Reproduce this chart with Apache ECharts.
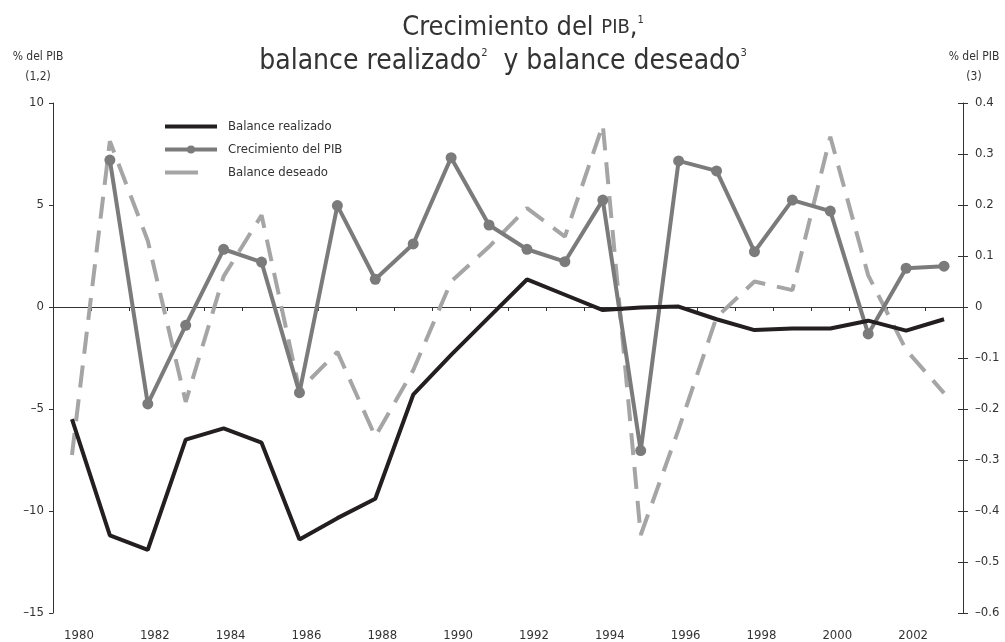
<!DOCTYPE html>
<html>
<head>
<meta charset="utf-8">
<script src="https://cdn.jsdelivr.net/npm/echarts@6/dist/echarts.min.js"></script>
<style>
  html, body { margin: 0; padding: 0; background: #fff; }
  #chart { width: 1005px; height: 642px; }
</style>
</head>
<body>
<div id="chart"></div>
<script>
// datos
const years = ['1980', '1981', '1982', '1983', '1984', '1985', '1986', '1987', '1988', '1989', '1990', '1991',
  '1992', '1993', '1994', '1995', '1996', '1997', '1998', '1999', '2000', '2001', '2002', '2003'];

// % del PIB, eje izquierdo (1,2)
const balanceRealizado = [-5.5, -11.2, -11.9, -6.5, -5.95, -6.65, -11.4, -10.35, -9.4, -4.3, -2.35, -0.5,
  1.35, 0.6, -0.15, -0.02, 0.02, -0.6, -1.13, -1.05, -1.05, -0.67, -1.16, -0.6];
const crecimientoPIB = [null, 7.2, -4.75, -0.9, 2.83, 2.2, -4.2, 4.97, 1.36, 3.09, 7.32, 4.02,
  2.83, 2.22, 5.24, -7.04, 7.16, 6.67, 2.71, 5.24, 4.7, -1.32, 1.9, 2.0];

// % del PIB, eje derecho (3)
const balanceDeseado = [-0.29, 0.325, 0.13, -0.186, 0.06, 0.18, -0.163, -0.088, -0.254, -0.124, 0.05, 0.118,
  0.194, 0.138, 0.357, -0.447, -0.24, -0.02, 0.05, 0.033, 0.334, 0.062, -0.084, -0.169];

// escalas de los ejes
const leftMin = -15, leftMax = 10, leftStep = 5;
const rightMin = -0.6, rightMax = 0.4, rightStep = 0.1;

const FONT = "'Liberation Sans Narrow', 'DejaVu Sans Condensed', 'Open Sans', sans-serif";
const AXIS_COLOR = '#333';
const TITLE_COLOR = '#333';

const chart = echarts.init(document.getElementById('chart'));

const dashFmt = (s) => s.replace('-', '\u2013');

// sin simbolo en la leyenda para las lineas sin marcadores
const noSymbol = { opacity: 0 };

const option = {
  backgroundColor: '#fff',
  animation: false,
  grid: { left: 53, right: 42, top: 103, bottom: 29, containLabel: false },
  legend: {
    orient: 'vertical',
    left: 158,
    top: 115,
    itemWidth: 52,
    itemHeight: 10,
    itemGap: 10,
    textStyle: { fontFamily: FONT, fontSize: 13, color: '#333', padding: [0, 0, 0, 6] },
    data: [
      { name: 'Balance realizado', itemStyle: noSymbol, lineStyle: { width: 4 } },
      { name: 'Crecimiento del PIB', lineStyle: { width: 4 } },
      { name: 'Balance deseado', itemStyle: noSymbol, lineStyle: { width: 4, type: [33, 40] } }
    ]
  },
  xAxis: [
    {
      type: 'category',
      data: years,
      position: 'bottom',
      axisLine: { show: false, onZero: false },
      axisTick: { show: false },
      axisLabel: {
        interval: 1, fontFamily: FONT, fontSize: 13, color: AXIS_COLOR,
        margin: 16, padding: [0, 0, 0, 14]
      }
    },
    {
      // linea del cero con marcas
      type: 'category',
      data: years,
      position: 'bottom',
      axisLine: { show: true, onZero: true, onZeroAxisIndex: 0, lineStyle: { color: AXIS_COLOR, width: 1 } },
      axisTick: { show: true, length: 4, lineStyle: { color: AXIS_COLOR } },
      axisLabel: { show: false }
    }
  ],
  yAxis: [
    {
      type: 'value', position: 'left',
      min: leftMin, max: leftMax, interval: leftStep,
      axisLine: { show: true, lineStyle: { color: AXIS_COLOR } },
      axisTick: { show: true, length: 4, lineStyle: { color: AXIS_COLOR } },
      splitLine: { show: false },
      axisLabel: {
        fontFamily: FONT, fontSize: 13, color: AXIS_COLOR, margin: 9,
        formatter: (v) => dashFmt(String(v))
      }
    },
    {
      type: 'value', position: 'right',
      min: rightMin, max: rightMax, interval: rightStep,
      axisLine: { show: true, lineStyle: { color: AXIS_COLOR } },
      axisTick: { show: true, length: 5, lineStyle: { color: AXIS_COLOR } },
      splitLine: { show: false },
      axisLabel: {
        fontFamily: FONT, fontSize: 13, color: AXIS_COLOR, margin: 12,
        formatter: (v) => (Math.abs(v) < 1e-9 ? '0' : dashFmt(v.toFixed(1)))
      }
    },
    {
      // marcas hacia dentro del eje derecho
      type: 'value', position: 'right',
      min: rightMin, max: rightMax, interval: rightStep,
      axisLine: { show: false },
      axisTick: { show: true, inside: true, length: 5, lineStyle: { color: AXIS_COLOR } },
      splitLine: { show: false },
      axisLabel: { show: false }
    }
  ],
  graphic: [
    {
      type: 'text', x: 523, y: 28,
      style: {
        text: '{m|Crecimiento del }{sc|PIB}{m|,}{sup|1}',
        align: 'center', verticalAlign: 'middle',
        rich: {
          m: { fontFamily: FONT, fontSize: 27, fill: TITLE_COLOR },
          sc: { fontFamily: FONT, fontSize: 20, fill: TITLE_COLOR },
          sup: { fontFamily: FONT, fontSize: 11, fill: TITLE_COLOR, verticalAlign: 'top', padding: [0, 0, 14, 0] }
        }
      }
    },
    {
      type: 'text', x: 503, y: 62,
      style: {
        text: '{m|balance realizado}{sup|2}{m|  y balance deseado}{sup|3}',
        align: 'center', verticalAlign: 'middle',
        rich: {
          m: { fontFamily: FONT, fontSize: 28, fill: TITLE_COLOR },
          sup: { fontFamily: FONT, fontSize: 11, fill: TITLE_COLOR, verticalAlign: 'top', padding: [0, 0, 14, 0] }
        }
      }
    },
    { type: 'text', x: 38, y: 57, style: { text: '% del PIB', align: 'center', verticalAlign: 'middle', fontFamily: FONT, fontSize: 12, fill: '#333' } },
    { type: 'text', x: 38, y: 77, style: { text: '(1,2)', align: 'center', verticalAlign: 'middle', fontFamily: FONT, fontSize: 12, fill: '#333' } },
    { type: 'text', x: 974, y: 57, style: { text: '% del PIB', align: 'center', verticalAlign: 'middle', fontFamily: FONT, fontSize: 12, fill: '#333' } },
    { type: 'text', x: 974, y: 77, style: { text: '(3)', align: 'center', verticalAlign: 'middle', fontFamily: FONT, fontSize: 12, fill: '#333' } }
  ],
  series: [
    {
      name: 'Balance realizado',
      type: 'line',
      data: balanceRealizado,
      yAxisIndex: 0,
      symbol: 'none',
      lineStyle: { color: '#231f20', width: 4 },
      itemStyle: { color: '#231f20' },
      z: 4
    },
    {
      name: 'Crecimiento del PIB',
      type: 'line',
      data: crecimientoPIB,
      yAxisIndex: 0,
      symbol: 'circle',
      symbolSize: 11,
      showAllSymbol: true,
      lineStyle: { color: '#7b7b7b', width: 4 },
      itemStyle: { color: '#7b7b7b' },
      z: 3
    },
    {
      name: 'Balance deseado',
      type: 'line',
      data: balanceDeseado,
      yAxisIndex: 1,
      symbol: 'none',
      lineStyle: { color: '#a5a5a5', width: 4, type: [22, 12] },
      itemStyle: { color: '#a5a5a5' },
      z: 2
    }
  ]
};

chart.setOption(option);
window.addEventListener('resize', () => chart.resize());
</script>
</body>
</html>
